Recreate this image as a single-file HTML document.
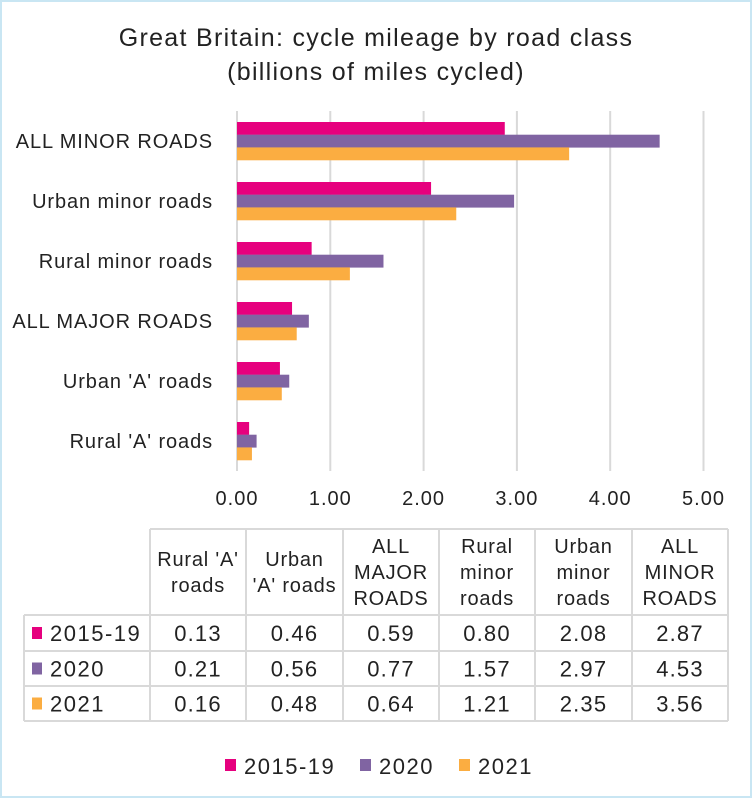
<!DOCTYPE html>
<html><head><meta charset="utf-8"><style>
body{margin:0;background:#fff;}
svg{display:block;font-family:"Liberation Sans",sans-serif;}
</style></head><body>
<svg id="chart" width="752" height="798" viewBox="0 0 752 798">
<rect x="1" y="1" width="750" height="796" fill="#fff" stroke="#c9e6f3" stroke-width="2"/>
<text x="376" y="46" text-anchor="middle" font-size="25" letter-spacing="1.3" fill="#222">Great Britain: cycle mileage by road class</text>
<text x="376" y="80" text-anchor="middle" font-size="25" letter-spacing="1.3" fill="#222">(billions of miles cycled)</text>
<g id="grid"></g><g id="bars"></g><g id="labels"></g><g id="table"></g><g id="legend"></g>
</svg>
<script>
const categories=["Rural 'A' roads","Urban 'A' roads","ALL MAJOR ROADS","Rural minor roads","Urban minor roads","ALL MINOR ROADS"];
const tableHeaders=[["Rural 'A'","roads"],["Urban","'A' roads"],["ALL","MAJOR","ROADS"],["Rural","minor","roads"],["Urban","minor","roads"],["ALL","MINOR","ROADS"]];
const seriesNames=["2015-19","2020","2021"];
const s2015=[0.13,0.46,0.59,0.80,2.08,2.87];
const s2020=[0.21,0.56,0.77,1.57,2.97,4.53];
const s2021=[0.16,0.48,0.64,1.21,2.35,3.56];
const ticks=[0,1,2,3,4,5];
const tickLabels=["0.00","1.00","2.00","3.00","4.00","5.00"];
const colors=["#e6007e","#8064a2","#fbad41"];
const series=[s2015,s2020,s2021];
const NS="http://www.w3.org/2000/svg";
function mk(p,t,a,txt){const e=document.createElementNS(NS,t);for(const k in a)e.setAttribute(k,a[k]);if(txt!==undefined)e.textContent=txt;p.appendChild(e);return e;}
const x0=237,xs=93.3;const X=v=>x0+v*xs;
const bandTop=111,band=60;
const Y=i=>bandTop+(categories.length-1-i)*band;
const grid=document.getElementById('grid'),bars=document.getElementById('bars'),labels=document.getElementById('labels');
ticks.forEach((t,i)=>{
 const l=mk(grid,'line',{x1:X(t),x2:X(t),y1:111,y2:471,stroke:'#d9d9d9','stroke-width':2});
 
 
 const tx=mk(labels,'text',{x:X(t),y:505,'text-anchor':'middle','font-size':20,'letter-spacing':1,fill:'#222'},tickLabels[i]);
 
 
});
categories.forEach((c,i)=>{
 const tx=mk(labels,'text',{x:213,y:Y(i)+37,'text-anchor':'end','font-size':20,'letter-spacing':0.9,fill:'#222'},c);
 
 
 series.forEach((s,k)=>{
  const r=mk(bars,'rect',{x:x0,y:Y(i)+11+k*12.7,width:X(s[i])-x0,height:12.9,fill:colors[k]});
  
  
 });
});
const tb=document.getElementById('table');
const cols=[24,150,246,343,439,535,632,728];
const rows=[529,615,651,686,721];
const st={stroke:'#d9d9d9','stroke-width':2};
for(let j=1;j<rows.length;j++){const l=mk(tb,'line',Object.assign({x1:cols[0],x2:cols[7],y1:rows[j],y2:rows[j]},st));}
const tl=mk(tb,'line',Object.assign({x1:cols[1],x2:cols[7],y1:rows[0],y2:rows[0]},st));


for(let c=0;c<cols.length;c++){const l=mk(tb,'line',Object.assign({x1:cols[c],x2:cols[c],y1:c==0?rows[1]:rows[0],y2:rows[4]},st));}
tableHeaders.forEach((h,c)=>{
 const cx=(cols[c+1]+cols[c+2])/2;const n=h.length;const start=572-(n-1)*13+7;
 h.forEach((ln,k)=>{const t=mk(tb,'text',{x:cx,y:start+k*26,'text-anchor':'middle','font-size':20,'letter-spacing':0.8,fill:'#222'},ln);});
});
series.forEach((s,k)=>{
 const cy=(rows[k+1]+rows[k+2])/2;
 const sq=mk(tb,'rect',{x:32,y:cy-6,width:10,height:12,fill:colors[k]});
 
 
 const t=mk(tb,'text',{x:50,y:cy+8,'font-size':22,'letter-spacing':1.5,fill:'#222'},seriesNames[k]);
 
 
 s.forEach((v,c)=>{const tv=mk(tb,'text',{x:(cols[c+1]+cols[c+2])/2,y:cy+8,'text-anchor':'middle','font-size':22,'letter-spacing':1.2,fill:'#222'},v.toFixed(2));});
});
const lg=document.getElementById('legend');
const lx=[225,360,459];
seriesNames.forEach((n,k)=>{
 const r=mk(lg,'rect',{x:lx[k],y:759,width:11,height:12,fill:colors[k]});
 
 
 const t=mk(lg,'text',{x:lx[k]+19,y:774,'font-size':22,'letter-spacing':1.5,fill:'#222'},n);
 
 
});
</script>
</body></html>
